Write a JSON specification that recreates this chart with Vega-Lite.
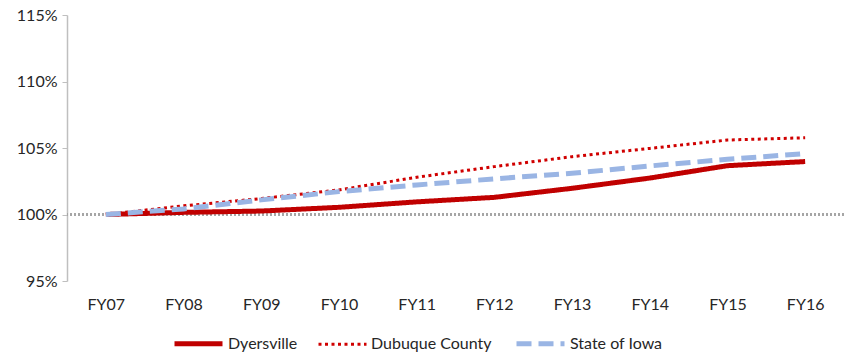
{
  "$schema": "https://vega.github.io/schema/vega-lite/v6.json",
  "width": 777,
  "height": 266,
  "autosize": "none",
  "padding": {"left": 67, "top": 15, "right": 1, "bottom": 75},
  "background": "white",
  "config": {
    "view": {"stroke": null},
    "font": "Lato",
    "axis": {"labelFont": "Lato", "labelFontSize": 16, "labelColor": "#262626", "grid": false},
    "legend": {"labelFont": "Lato", "labelFontSize": 16, "labelColor": "#262626"}
  },
  "data": {
    "values": [
      {"year": "FY07", "series": "Dyersville", "value": 100.0},
      {"year": "FY08", "series": "Dyersville", "value": 100.16},
      {"year": "FY09", "series": "Dyersville", "value": 100.26},
      {"year": "FY10", "series": "Dyersville", "value": 100.54},
      {"year": "FY11", "series": "Dyersville", "value": 100.95},
      {"year": "FY12", "series": "Dyersville", "value": 101.29},
      {"year": "FY13", "series": "Dyersville", "value": 101.97},
      {"year": "FY14", "series": "Dyersville", "value": 102.74},
      {"year": "FY15", "series": "Dyersville", "value": 103.67},
      {"year": "FY16", "series": "Dyersville", "value": 103.98},
      {"year": "FY07", "series": "Dubuque County", "value": 100.0},
      {"year": "FY08", "series": "Dubuque County", "value": 100.65},
      {"year": "FY09", "series": "Dubuque County", "value": 101.2},
      {"year": "FY10", "series": "Dubuque County", "value": 101.85},
      {"year": "FY11", "series": "Dubuque County", "value": 102.8},
      {"year": "FY12", "series": "Dubuque County", "value": 103.6},
      {"year": "FY13", "series": "Dubuque County", "value": 104.35},
      {"year": "FY14", "series": "Dubuque County", "value": 104.97},
      {"year": "FY15", "series": "Dubuque County", "value": 105.6},
      {"year": "FY16", "series": "Dubuque County", "value": 105.77},
      {"year": "FY07", "series": "State of Iowa", "value": 100.0},
      {"year": "FY08", "series": "State of Iowa", "value": 100.42},
      {"year": "FY09", "series": "State of Iowa", "value": 101.1},
      {"year": "FY10", "series": "State of Iowa", "value": 101.72},
      {"year": "FY11", "series": "State of Iowa", "value": 102.22},
      {"year": "FY12", "series": "State of Iowa", "value": 102.68},
      {"year": "FY13", "series": "State of Iowa", "value": 103.1},
      {"year": "FY14", "series": "State of Iowa", "value": 103.65},
      {"year": "FY15", "series": "State of Iowa", "value": 104.15},
      {"year": "FY16", "series": "State of Iowa", "value": 104.58}
    ]
  },
  "layer": [
    {
      "mark": {"type": "rule", "color": "#A6A6A6", "strokeWidth": 2, "strokeDash": [2, 2]},
      "encoding": {"y": {"datum": 100, "type": "quantitative"}}
    },
    {
      "mark": {"type": "line", "strokeCap": "butt", "strokeJoin": "round"},
      "encoding": {
        "x": {
          "field": "year", "type": "nominal", "title": null,
          "scale": {"type": "point", "padding": 0.5},
          "axis": {"domain": false, "ticks": false, "labelAngle": 0, "labelPadding": 15}
        },
        "y": {
          "field": "value", "type": "quantitative", "title": null,
          "scale": {"domain": [95, 115], "nice": false, "zero": false},
          "axis": {"values": [95, 100, 105, 110, 115], "labelExpr": "datum.value + '%'",
                   "domainColor": "#BFBFBF", "domainWidth": 1.5, "tickColor": "#BFBFBF", "tickSize": 5, "labelPadding": 5}
        },
        "color": {
          "field": "series", "type": "nominal",
          "scale": {"domain": ["Dyersville", "Dubuque County", "State of Iowa"], "range": ["#C00000", "#D00000", "#9AB5E4"]},
          "legend": {"title": null, "orient": "none", "direction": "horizontal", "legendX": 105, "legendY": 302,
                     "symbolType": "stroke", "symbolSize": 2304, "labelOffset": 3, "columnPadding": 14}
        },
        "strokeDash": {
          "field": "series", "type": "nominal",
          "scale": {"domain": ["Dyersville", "Dubuque County", "State of Iowa"], "range": [[1, 0], [3, 3.5], [15, 7]]}
        },
        "strokeWidth": {
          "field": "series", "type": "nominal",
          "scale": {"type": "ordinal", "domain": ["Dyersville", "Dubuque County", "State of Iowa"], "range": [5, 3, 5]}
        }
      }
    }
  ]
}
